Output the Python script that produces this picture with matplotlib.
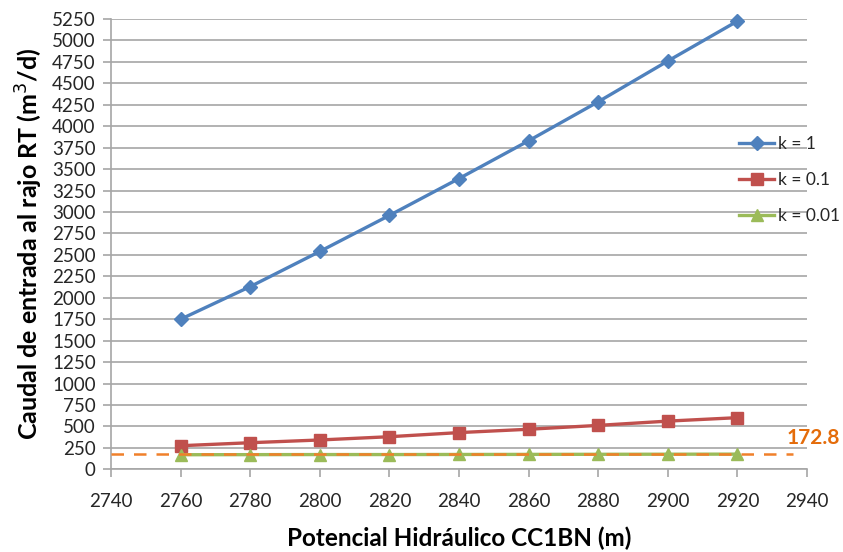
import matplotlib
matplotlib.use("Agg")
import matplotlib.pyplot as plt

# Hydraulic head at CC1BN (m)
potencial = [2760, 2780, 2800, 2820, 2840, 2860, 2880, 2900, 2920]

# Inflow to the pit for each hydraulic conductivity (m3/d)
caudal_k1 = [1750, 2130, 2540, 2960, 3390, 3830, 4285, 4760, 5225]
caudal_k01 = [275, 310, 342, 380, 428, 467, 512, 562, 602]
caudal_k001 = [170, 171, 172, 172, 173, 174, 175, 176, 177]

umbral = 172.8
x_ticks = [2740, 2760, 2780, 2800, 2820, 2840, 2860, 2880, 2900, 2920, 2940]
y_ticks = list(range(0, 5251, 250))

plt.rcParams['font.family'] = ['Lato', 'DejaVu Sans']

fig = plt.figure(figsize=(8.43, 5.52), dpi=100)
ax = fig.add_axes([0.1317, 0.1498, 0.8256, 0.8158])

grid_c = '#A6A6A6'
ax.set_xlim(2740, 2940)
ax.set_ylim(0, 5250)
ax.set_xticks(x_ticks)
ax.set_yticks(y_ticks)
ax.yaxis.grid(True, color=grid_c, linewidth=1.2)
ax.set_axisbelow(True)
for s in ['top', 'right']:
    ax.spines[s].set_visible(False)
for s in ['left', 'bottom']:
    ax.spines[s].set_color(grid_c)
    ax.spines[s].set_linewidth(1.2)
ax.tick_params(axis='both', direction='out', length=6, width=1.2, color=grid_c,
               labelsize=13.5, labelcolor='#262626')
ax.tick_params(axis='x', pad=11)
ax.tick_params(axis='y', pad=5)

l1, = ax.plot(potencial, caudal_k1, color='#4F81BD', lw=2.4, marker='D', ms=7,
              label='k = 1', clip_on=False, zorder=4)
l2, = ax.plot(potencial, caudal_k01, color='#C0504D', lw=2.4, marker='s', ms=9,
              label='k = 0.1', clip_on=False, zorder=4)
l3, = ax.plot(potencial, caudal_k001, color='#9BBB59', lw=2.4, marker='^', ms=9,
              label='k = 0.01', clip_on=False, zorder=4)

# Reference threshold line
ax.plot([2740, 2936], [umbral, umbral], color='#F0802A', lw=1.8,
        dashes=(5, 4), clip_on=False, zorder=5)
ax.text(2934, umbral + 80, f'{umbral}', color='#E46C0A', fontsize=15,
        fontweight='bold', ha='left', va='bottom', clip_on=False)

ax.set_xlabel('Potencial Hidráulico CC1BN (m)', fontsize=17.5, fontweight='bold',
              color='black', labelpad=12)
ax.set_ylabel('Caudal de entrada al rajo RT (m$^3$/d)', fontsize=18,
              fontweight='bold', color='black', labelpad=5)

leg = ax.legend(handles=[l1, l2, l3], loc='upper left',
                bbox_to_anchor=(0.893, 0.755), frameon=False, fontsize=12.5,
                handlelength=2.0, handletextpad=0.2, labelspacing=1.15,
                borderaxespad=0)
for t in leg.get_texts():
    t.set_color('#262626')

fig.savefig('out.png', dpi=100)
